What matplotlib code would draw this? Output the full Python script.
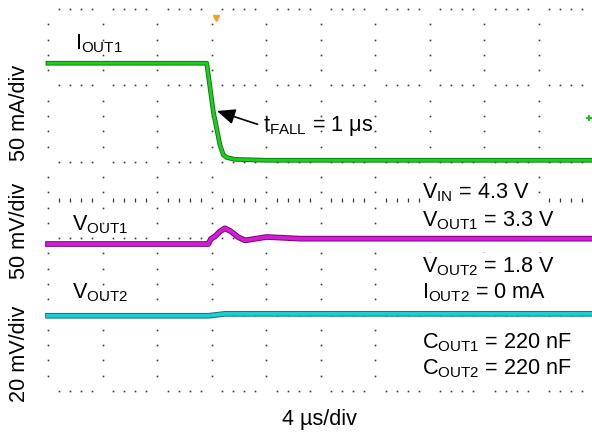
import numpy as np
import matplotlib
matplotlib.use("Agg")
import matplotlib.pyplot as plt
import matplotlib.patheffects as pe

plt.rcParams['font.family'] = ['Liberation Sans', 'DejaVu Sans']
plt.rcParams['mathtext.fontset'] = 'custom'
plt.rcParams['mathtext.rm'] = 'Liberation Sans'

# I_OUT1 load step (time in us, current in mA)
t_iout1 = [0, 11.65, 12.13, 12.62, 12.87, 13.12, 13.72, 16.0, 40]
iout1 = [63.5, 63.5, 32.0, 10.0, 3.5, 1.8, 0.6, 0.0, 0.0]

# V_OUT1 response (AC, mV)
t_vout1 = [0, 11.77, 11.95, 12.26, 12.6, 12.99, 13.4, 13.97, 14.46, 15.2, 16.05, 18.5, 40]
vout1 = [-3.8, -3.8, -0.5, 1.2, 4.3, 6.5, 4.6, 0.6, -1.4, -0.4, 0.8, -0.3, -0.3]

# V_OUT2 response (AC, mV)
t_vout2 = [0, 11.8, 13.0, 40]
vout2 = [-0.3, -0.3, 0.2, 0.2]

# channel scale (per div) and zero level (div from bottom)
IOUT1_SCALE, IOUT1_ZERO = 50.0, 3.02
VOUT1_SCALE, VOUT1_ZERO = 50.0, 2.0
VOUT2_SCALE, VOUT2_ZERO = 20.0, 1.0

TRIGGER_T = 12.33

fig = plt.figure(figsize=(5.92, 4.35), dpi=100)
ax = fig.add_axes([48 / 592, 43 / 435, 545 / 592, 382 / 435])
ax.set_xlim(0, 40)
ax.set_ylim(0, 5)
ax.axis('off')

# dotted graticule: 10 x 5 divisions, 5 ticks per division
minor_x = np.arange(0, 40.01, 0.8)
minor_y = np.arange(0, 5.001, 0.2)
minor_x = minor_x[~np.isclose(np.mod(minor_x + 1e-6, 4), 0, atol=1e-3)]
minor_y = minor_y[~np.isclose(np.mod(minor_y + 1e-6, 1), 0, atol=1e-3)]
dot = dict(ls='none', marker='s', ms=1.2, mew=0, color='#3a3a3a', clip_on=False)
for y in range(6):
    ax.plot(minor_x, np.full_like(minor_x, y), **dot)
for x in range(0, 41, 4):
    ax.plot(np.full_like(minor_y, x), minor_y, **dot)
ax.plot(minor_x, np.full_like(minor_x, 2.5), ls='none', marker='|', ms=3,
        mew=0.9, color='#3a3a3a', clip_on=False)


def trace(t, vals, scale, zero, core, edge, lw):
    y = zero + np.asarray(vals) / scale
    ax.plot(t, y, color=core, lw=lw, solid_joinstyle='round', clip_on=False,
            path_effects=[pe.Stroke(linewidth=lw + 1.4, foreground=edge), pe.Normal()],
            zorder=3)


trace(t_iout1, iout1, IOUT1_SCALE, IOUT1_ZERO, '#22cc22', '#0b7d0b', 2.0)
trace(t_vout1, vout1, VOUT1_SCALE, VOUT1_ZERO, '#d21ed2', '#7d007d', 2.7)
trace(t_vout2, vout2, VOUT2_SCALE, VOUT2_ZERO, '#1ccfcf', '#0a7878', 2.7)

# trigger and channel markers
ax.plot([TRIGGER_T], [4.88], marker='v', ms=5, color='#f0a020', clip_on=False)
ax.plot([39.7], [3.57], marker='P', ms=4, mew=0, color='#22bb22', clip_on=False)

fs = 15.6
ax.text(1.98, 4.48, r'I$_{\mathregular{OUT1}}$', fontsize=fs)
ax.text(1.76, 2.12, r'V$_{\mathregular{OUT1}}$', fontsize=fs)
ax.text(1.76, 1.23, r'V$_{\mathregular{OUT2}}$', fontsize=fs)

ax.annotate(r't$_{\mathregular{FALL}}$ = 1 $\mathregular{\mu}$s', xy=(12.4, 3.665),
            xytext=(15.78, 3.41), fontsize=fs,
            arrowprops=dict(arrowstyle='-|>,head_length=0.7,head_width=0.3', color='black',
                            lw=1.2, shrinkA=0, shrinkB=0,
                            relpos=(-0.05, 0.55)))

box = dict(facecolor='white', edgecolor='none', pad=1)
notes = [
    (2.54, r'V$_{\mathregular{IN}}$ = 4.3 V'),
    (2.17, r'V$_{\mathregular{OUT1}}$ = 3.3 V'),
    (1.57, r'V$_{\mathregular{OUT2}}$ = 1.8 V'),
    (1.23, r'I$_{\mathregular{OUT2}}$ = 0 mA'),
    (0.576, r'C$_{\mathregular{OUT1}}$ = 220 nF'),
    (0.236, r'C$_{\mathregular{OUT2}}$ = 220 nF'),
]
for y, s in notes:
    ax.text(27.45, y, s, fontsize=fs, bbox=box, zorder=4)

fig.text(20 / 592, 1 - 113 / 435, '50 mA/div', rotation=90, fontsize=fs,
         ha='center', va='center')
fig.text(20 / 592, 1 - 231 / 435, '50 mV/div', rotation=90, fontsize=fs,
         ha='center', va='center')
fig.text(20 / 592, 1 - 354 / 435, '20 mV/div', rotation=90, fontsize=fs,
         ha='center', va='center')
fig.text(319 / 592, 1 - 420 / 435, '4 \u00b5s/div', fontsize=fs,
         ha='center', va='center')

fig.savefig('out.png', dpi=100)
